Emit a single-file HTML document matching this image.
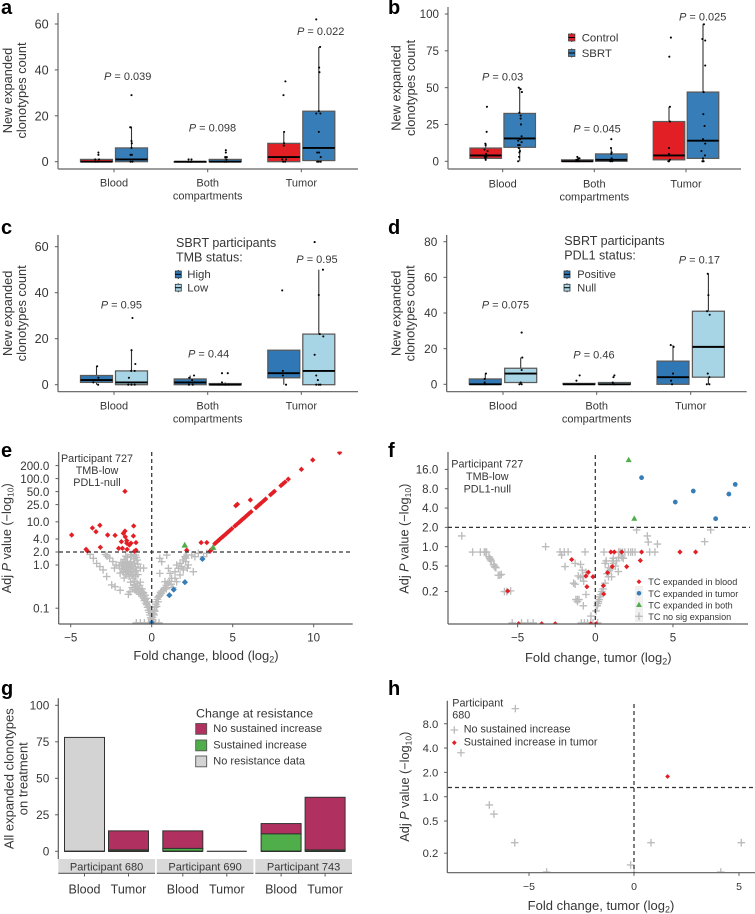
<!DOCTYPE html>
<html lang="en">
<head>
<meta charset="utf-8">
<title>New expanded clonotypes figure</title>
<style>
html,body{margin:0;padding:0;background:#fff;width:755px;height:914px;overflow:hidden}
svg{display:block;font-family:"Liberation Sans",Arial,sans-serif;fill:#363636;filter:blur(0.25px)}
.pl{font-weight:bold;font-size:20px;fill:#000}
.t{font-size:11px}
.yt{font-size:12.8px}
.tl{font-size:12px}
.sm{font-size:10px}
</style>
</head>
<body>
<svg id="fig" xmlns="http://www.w3.org/2000/svg" width="755" height="914" viewBox="0 0 755 914">
<defs>
<clipPath id="clip-e"><rect x="59" y="451.5" width="294" height="172"/></clipPath>
<clipPath id="clip-f"><rect x="448.5" y="451.5" width="300" height="172"/></clipPath>
<clipPath id="clip-h"><rect x="448" y="700" width="307" height="172"/></clipPath>
</defs>

<text class="pl" x="1" y="14">a</text>
<text class="pl" x="388" y="14">b</text>
<text class="pl" x="1" y="234">c</text>
<text class="pl" x="388" y="234">d</text>
<text class="pl" x="1" y="457">e</text>
<text class="pl" x="388" y="457">f</text>
<text class="pl" x="1" y="695">g</text>
<text class="pl" x="388" y="695">h</text>

<g id="panel-a">
<text class="yt" transform="translate(12,90.5) rotate(-90)" text-anchor="middle">New expanded</text>
<text class="yt" transform="translate(26,90.5) rotate(-90)" text-anchor="middle">clonotypes count</text>
<text class="t" x="104" y="80"><tspan font-style="italic">P</tspan> = 0.039</text>
<text class="t" x="188.7" y="131.7"><tspan font-style="italic">P</tspan> = 0.098</text>
<text class="t" x="297" y="35"><tspan font-style="italic">P</tspan> = 0.022</text>
</g>

<g id="panel-b">
<text class="yt" transform="translate(400.7,88) rotate(-90)" text-anchor="middle">New expanded</text>
<text class="yt" transform="translate(415,88) rotate(-90)" text-anchor="middle">clonotypes count</text>
<text class="t" x="482" y="80.3"><tspan font-style="italic">P</tspan> = 0.03</text>
<text class="t" x="573.3" y="132.3"><tspan font-style="italic">P</tspan> = 0.045</text>
<text class="t" x="679" y="20.7"><tspan font-style="italic">P</tspan> = 0.025</text>
<g>
<line x1="571.7" x2="571.7" y1="33" y2="42" stroke="#333" stroke-width="1"/>
<rect x="568.5" y="34" width="6.4" height="7" fill="#e31f26" stroke="#444" stroke-width="0.8"/>
<line x1="568.5" x2="574.9" y1="37.5" y2="37.5" stroke="#000" stroke-width="1"/>
<text x="581.7" y="41.3" font-size="11.4">Control</text>
</g>
<g>
<line x1="571.7" x2="571.7" y1="48.5" y2="57.5" stroke="#333" stroke-width="1"/>
<rect x="568.5" y="49.5" width="6.4" height="7" fill="#377eb8" stroke="#444" stroke-width="0.8"/>
<line x1="568.5" x2="574.9" y1="53" y2="53" stroke="#000" stroke-width="1"/>
<text x="581.7" y="56.8" font-size="11.4">SBRT</text>
</g>
</g>

<g id="panel-c">
<text class="yt" transform="translate(12,313.3) rotate(-90)" text-anchor="middle">New expanded</text>
<text class="yt" transform="translate(26,313.3) rotate(-90)" text-anchor="middle">clonotypes count</text>
<text class="t" x="100.7" y="308.3"><tspan font-style="italic">P</tspan> = 0.95</text>
<text class="t" x="188" y="357.7"><tspan font-style="italic">P</tspan> = 0.44</text>
<text class="t" x="296.3" y="263"><tspan font-style="italic">P</tspan> = 0.95</text>
<text x="176" y="247" font-size="12.5">SBRT participants</text>
<text x="176" y="261.7" font-size="12.5">TMB status:</text>
<g>
<line x1="178.3" x2="178.3" y1="270" y2="279" stroke="#333" stroke-width="1"/>
<rect x="175.3" y="271" width="6" height="6.8" fill="#2f78b5" stroke="#333" stroke-width="0.8"/>
<line x1="175.3" x2="181.3" y1="274.3" y2="274.3" stroke="#000" stroke-width="1"/>
<text x="187.3" y="278.2" font-size="11.4">High</text>
</g>
<g>
<line x1="178.3" x2="178.3" y1="283.3" y2="292.3" stroke="#333" stroke-width="1"/>
<rect x="175.3" y="284.3" width="6" height="6.8" fill="#a8d5e5" stroke="#333" stroke-width="0.8"/>
<line x1="175.3" x2="181.3" y1="287.7" y2="287.7" stroke="#000" stroke-width="1"/>
<text x="187.3" y="291.6" font-size="11.4">Low</text>
</g>
</g>

<g id="panel-d">
<text class="yt" transform="translate(400.3,313.3) rotate(-90)" text-anchor="middle">New expanded</text>
<text class="yt" transform="translate(414.3,313.3) rotate(-90)" text-anchor="middle">clonotypes count</text>
<text class="t" x="481.7" y="308.3"><tspan font-style="italic">P</tspan> = 0.075</text>
<text class="t" x="573.3" y="358.3"><tspan font-style="italic">P</tspan> = 0.46</text>
<text class="t" x="678.7" y="263.3"><tspan font-style="italic">P</tspan> = 0.17</text>
<text x="564.3" y="245" font-size="12.5">SBRT participants</text>
<text x="564.3" y="259.3" font-size="12.5">PDL1 status:</text>
<g>
<line x1="567" x2="567" y1="270" y2="279" stroke="#333" stroke-width="1"/>
<rect x="564" y="271" width="6" height="6.8" fill="#2f78b5" stroke="#333" stroke-width="0.8"/>
<line x1="564" x2="570" y1="274.3" y2="274.3" stroke="#000" stroke-width="1"/>
<text x="577.3" y="278.2" font-size="11">Positive</text>
</g>
<g>
<line x1="567" x2="567" y1="283.3" y2="292.3" stroke="#333" stroke-width="1"/>
<rect x="564" y="284.3" width="6" height="6.8" fill="#a8d5e5" stroke="#333" stroke-width="0.8"/>
<line x1="564" x2="570" y1="287.7" y2="287.7" stroke="#000" stroke-width="1"/>
<text x="577.3" y="291.6" font-size="11">Null</text>
</g>
</g>

<g id="panel-e">
<text font-size="12.7" transform="translate(11,538.3) rotate(-90)" text-anchor="middle">Adj <tspan font-style="italic">P</tspan> value (−log<tspan font-size="8.5" dy="2.5">10</tspan><tspan dy="-2.5">)</tspan></text>
<text font-size="13" x="206" y="660" text-anchor="middle">Fold change, blood (log<tspan font-size="9" dy="2.5">2</tspan><tspan dy="-2.5">)</tspan></text>
</g>

<g id="panel-f">
<text font-size="12.7" transform="translate(408.3,538.7) rotate(-90)" text-anchor="middle">Adj <tspan font-style="italic">P</tspan> value (−log<tspan font-size="8.5" dy="2.5">10</tspan><tspan dy="-2.5">)</tspan></text>
<text font-size="13" x="598.3" y="662" text-anchor="middle">Fold change, tumor (log<tspan font-size="9" dy="2.5">2</tspan><tspan dy="-2.5">)</tspan></text>
</g>

<g id="panel-g">
<text font-size="13" transform="translate(13.3,778.7) rotate(-90)" text-anchor="middle">All expanded clonotypes</text>
<text font-size="13" transform="translate(27.7,778.7) rotate(-90)" text-anchor="middle">on treatment</text>
<text x="196" y="717.3" font-size="12.4">Change at resistance</text>
<rect x="195.7" y="723.5" width="11" height="10.8" fill="#b0305f" stroke="#555" stroke-width="0.9"/>
<rect x="195.7" y="740" width="11" height="10.8" fill="#4fae4a" stroke="#555" stroke-width="0.9"/>
<rect x="195.7" y="756" width="11" height="10.8" fill="#d3d3d3" stroke="#555" stroke-width="0.9"/>
<text class="t" x="213.3" y="732">No sustained increase</text>
<text class="t" x="213.3" y="748.3">Sustained increase</text>
<text class="t" x="213.3" y="764.3">No resistance data</text>
</g>

<g id="panel-h">
<text font-size="12.7" transform="translate(409,786.7) rotate(-90)" text-anchor="middle">Adj <tspan font-style="italic">P</tspan> value (−log<tspan font-size="8.5" dy="2.5">10</tspan><tspan dy="-2.5">)</tspan></text>
<text font-size="13" x="601" y="910" text-anchor="middle">Fold change, tumor (log<tspan font-size="9" dy="2.5">2</tspan><tspan dy="-2.5">)</tspan></text>
<text font-size="10.8" x="452.3" y="706.7">Participant</text>
<text font-size="10.8" x="452.3" y="718.7">680</text>
<text font-size="10.8" x="463.7" y="732.7">No sustained increase</text>
<text font-size="10.8" x="463.7" y="745.3">Sustained increase in tumor</text>
</g>
</svg>

<script>
// ---------- box plot data ----------
const boxCategories = [["Blood"], ["Both", "compartments"], ["Tumor"]];

const aTicks = [0, 20, 40, 60];
const aQ1 = [0, 0, 0, 0, 0, 0.5];
const aMedian = [0, 1, 0, 0, 2, 6];
const aQ3 = [1, 6, 0, 1, 8, 22];
const aLow = [0, 0, 0, 0, 0, 0];
const aHigh = [1, 15, 0, 2, 13, 50];
const aPoints = [[4,3,1,1,0,0],[29,15,15,9,8,6,3,3,0,0],[1,1,0,0,0],[5,4,2,2,1,0,0],[35,29,13,8,7,1,1,0,0],[62,50,41,39,22,21,21,13,4,4,2,0,0,0]];
const aJitter = [[.06,.06,-.04,.08,-.04,.04],[0,-.04,-.02,0,.01,0,-.03,.01,-.03,.03],[-.05,.04,-.06,.01,.05],[.02,.02,.05,0,.04,-.01,.04],[.05,-.01,.01,.01,0,-.05,.07,-.02,.04],[-.08,.04,.01,.02,0,-.08,.05,0,-.05,.01,.06,-.05,0,.06]];

const bTicks = [0, 25, 50, 75, 100];
const bQ1 = [2, 9.5, 0, 0, 1, 2];
const bMedian = [4, 15.5, 0, 1, 4, 14];
const bQ3 = [9, 32.5, 1, 5, 27, 47];
const bLow = [1, 0, 0, 0, 0, 0];
const bHigh = [12, 50, 1, 9, 37, 93];
const bPoints = [[37,20,12,11,8,7,5,4,3,3,2,1],[50,49,47,33,31,29,25,17,15,14,13,11,11,9,7,6,3,0],[3,2,2,1,1,0,0],[15,9,6,5,2,1,0,0],[84,71,37,27,9,5,4,1,0,0],[93,83,82,65,47,32,24,15,12,7,4,2,0,0]];
const bJitter = [[.04,.03,-.01,0,-.04,.06,.01,.04,-.03,.02,-.01,0],[-.03,.03,.07,-.01,.03,.03,.04,.06,.01,-.05,.06,-.05,0,-.03,.01,-.01,-.02,-.05],[0,.03,.07,.02,-.03,-.04,.05],[0,-.01,.01,0,.01,.03,-.03,.03],[.06,.01,.03,.03,0,0,-.03,.03,-.02,0],[.03,-.02,.07,.07,.02,.01,.05,0,.07,-.05,.06,0,-.02,.02]];

const cTicks = [0, 20, 40, 60];
const cQ1 = [1, 0, 0, 0, 3, 0];
const cMedian = [2, 1, 1, 0, 5, 6];
const cQ3 = [4, 6, 2.5, 0.5, 15, 22];
const cLow = [0, 0, 0, 0, 0, 0];
const cHigh = [8, 15, 4, 1, 15, 50];
const cPoints = [[8,3,2,1,0],[29,15,9,6,6,3,0,0,0],[4,3,2,1,0,0],[5,5,1,0,0,0],[41,6,4,0],[62,50,39,22,21,13,4,2,0,0,0]];
const cJitter = [[.02,.06,-.05,-.1,.05],[.03,0,.12,-.01,.1,-.08,-.1,0,.1],[.12,-.03,.06,-.05,-.04,.08],[-.1,.08,-.1,-.2,0,.1],[-.05,-.03,-.03,.07],[-.13,.13,0,.03,.14,-.13,-.08,-.03,-.08,0,.05]];

const dTicks = [0, 20, 40, 60, 80];
const dQ1 = [0, 1, 0, 0, 0, 4];
const dMedian = [0, 6, 0, 0, 4, 21];
const dQ3 = [3, 9, 0.5, 1, 13, 41];
const dLow = [0, 0, 0, 0, 0, 0];
const dHigh = [6, 15, 0.5, 1, 22, 62];
const dPoints = [[6,3,1,0],[29,15,8,1,0,0],[5,2,0],[5,4,1,0],[22,21,6,2,0],[62,50,41,39,6,4,0,0]];
const dJitter = [[.02,-.02,-.02,0],[.03,.05,.03,0,-.04,.03],[.02,-.08,0],[0,-.03,-.05,0],[-.07,.02,0,-.06,-.03],[-.02,0,-.04,.04,-.02,.03,-.05,.03]];

// ---------- volcano e data: [log2 fold change, -log10 adj P] ----------
const eXTicks = [-5, 0, 5, 10];
const eYTicks = [200, 100, 50, 25, 10, 4, 2, 1, 0.1];
const eYLabels = ["200.0", "100.0", "50.0", "25.0", "10.0", "4.0", "2.0", "1.0", "0.1"];
const eGrey = [[-3.8,1.76],[-3.6,1.43],[-3.4,1.09],[-3.2,.92],[-3,.77],[-2.78,.54],[-2.47,.345],[-2.26,.315],[-1.95,.26],[-1.44,.21],[-1.34,.24],
[-2.85,1.75],[-2.75,1.6],[-2.6,1.45],[-2.4,1.2],[-2.2,1],[-2.3,.85],[-2,.95],[-1.9,1.15],[-1.85,.85],[-1.8,1.1],[-1.75,.95],[-1.7,.8],[-1.65,1],[-1.6,1.2],[-1.55,.9],[-1.5,.75],[-1.5,1.1],[-1.45,.95],[-1.4,.85],[-1.35,1.05],[-1.3,.7],[-1.3,1.2],[-1.25,.9],[-1.2,.6],[-1.2,1],[-1.15,.8],[-1.1,1.4],[-1.1,.7],[-1.05,1.1],[-1,.9],[-1,.55],[-.95,.75],[-.9,1.3],[-.85,.6],[-.7,.85],[-.5,.85],[-1.7,.5],[-1.6,.6],[-1.4,.55],[-1.95,.65],[-1.7,1.35],[-1.5,1.5],[-1.25,1.6],[-1,1.7],[-1.6,1.6],[-1.3,1.75],[-.85,1.05],[-.95,1.5],[-1.75,.7],[-1.45,.65],[-1.15,.5],[-1.05,.42],[-1.3,.4],
[-1.2,.3],[-1.1,.35],[-1.05,.27],[-1,.3],[-.95,.25],[-.9,.33],[-.85,.27],[-.8,.23],[-.75,.29],[-.7,.21],[-.65,.25],[-.6,.19],[-.55,.22],[-.5,.17],[-.45,.15],[-.4,.16],[-.35,.13],[-.3,.12],[-.25,.105],[-.2,.09],[-.15,.08],[-.1,.07],[-.05,.06],[0,.055],[-.9,.38],[-.75,.34],[-.6,.28],[-.5,.23],[-.4,.2],[-.3,.17],[-.7,.4],[-.25,.14],[-.15,.11],[-.1,.09],
[.05,.062],[.1,.075],[.15,.09],[.2,.105],[.25,.125],[.3,.14],[.35,.16],[.4,.18],[.45,.19],[.5,.2],[.55,.23],[.6,.22],[.7,.25],[.75,.27],[.85,.3],[.9,.34],[1,.38],[1.1,.42],[1.2,.36],[1.3,.3],[.9,.28],[.6,.25],[.05,.05],[.15,.07],[.3,.11],[.4,.14],[.2,.085],
[.5,1.43],[.93,1.7],[.62,1.19],[.5,.64],[1.03,.84],[1.44,.7],[1.54,1],[1.75,1.09],[1.95,1.31],[2.06,1.56],[2.16,1.7],[2.47,1.7],[2.67,1.56],[2.88,1.86],[2.57,.7],[1.44,.49],[1.75,.59],[1.95,.77],[1.65,.84],[1.13,.64],[1.23,.49],[.82,.41],[1.54,.41],[2.26,1],[2.1,1.2],[2.2,.85],[3.4,1.86],[3.2,1.56],[1.85,.92],[2.1,1.45],
[-.95,.046],[-.7,.046],[-.45,.046],[-.2,.046],[0,.046],[.1,.046],[.25,.046],[.45,.046]];
const eRedSide = [[-4.94,4.95],[-4.05,2.3],[-3.97,2.1],[-3.66,7.2],[-3.44,5.9],[-3.2,8.3],[-3.17,2.57],[-2.72,4.95],[-2.26,4.86],[-2.04,2.43],[-1.81,2.43],[-1.87,3.47],[-1.75,5.4],[-1.65,6.1],[-1.63,4.5],[-1.54,3.66],[-1.54,3.2],[-1.52,2.3],[-1.65,50.7],[-1.38,2.9],[-1.28,3.2],[-1.13,4.7],[-1.11,8],[-1.07,2.07],[-.97,2.2],[-.97,3.3],[2.16,2.2],[3.05,3.3],[3.4,3.3],[3.6,2.1],[3.7,2.3],[5.19,23.6],[5.29,25.4],[6.09,32],[9.24,164],[9.94,270],[11.6,400]];
const eRedDiagonal = [[3.9,3.13],[4,3.38],[4.1,3.65],[4.2,3.94],[4.3,4.25],[4.4,4.57],[4.5,4.93],[4.6,5.32],[4.7,5.74],[4.8,6.19],[4.94,6.9],[5.14,8],[5.25,8.7],[5.4,9.75],[5.5,10.5],[5.6,11.4],[5.7,12.2],[5.8,13.2],[5.9,14.3],[6,15.4],[6.13,17],[6.44,21.3],[6.55,23.2],[6.65,25],[6.75,27],[6.9,30.3],[7.03,33.5],[7.34,42.5],[7.47,47],[7.57,50.5],[7.98,69],[8.1,75.5],[8.23,83],[8.43,97]];
const eBlue = [[1.09,.2],[1.36,.27],[2.05,.4],[3.13,1.38],[0,.046]];
const eGreen = [[2.04,2.9],[3.79,2.57]];

// ---------- volcano f data ----------
const fXTicks = [-5, 0, 5];
const fYTicks = [16, 8, 4, 2, 1, 0.5, 0.2];
const fYLabels = ["16.0", "8.0", "4.0", "2.0", "1.0", "0.5", "0.2"];
const fGrey = [[-8.6,1.47],[-7.9,.826],[-7.4,.826],[-7.15,.826],[-7.05,.826],[-7,.826],[-6.85,.7],[-6.8,.66],[-6.75,.63],[-6.7,.6],[-6.55,.53],[-6.5,.5],[-6.45,.48],[-6.4,.47],[-6.25,.36],[-6.15,.36],[-6.05,.37],[-5.85,.2],[-5.7,.2],[-5.45,.205],[-3.2,1],[-2.27,.83],[-2.17,.74],[-2,.83],[-1.75,.83],[-1.95,.49],[-1.3,.55],[-.95,.53],[-.66,.83],[-.84,.43],[-.6,.4],[-1.1,.35],[-.95,.33],[-.8,.34],[-1.4,.27],[-1.3,.26],[-.75,.29],[-.6,.18],[-1.25,.15],[-1.15,.15],[-1.05,.15],[-1.15,.14],[-.77,.12],[-.28,.083],
[-5.35,.065],[-4.75,.065],[-4.35,.065],[-4,.065],[-.9,.065],[-.7,.065],[-.5,.065],[-.3,.065],[-.15,.065],[.15,.065],
[.56,.826],[1.6,.826],[2.13,.826],[2.28,.826],[2.56,.826],[3.5,.826],[3.84,.826],[1.5,.826],[1.75,.826],[1.9,.826],[2.4,.826],[2.66,1.82],[3.35,1.47],[3.41,1.18],[4,1.1],[7.43,1.82],[7.04,1.2],
[.3,.166],[.41,.2],[.63,.27],[.85,.34],[1.16,.55],[1.48,.41],[.63,.55],[.85,.47],[1.16,.66],[1.37,.6],[1.7,.69],[1.8,.66],[1.05,.34],[.2,.14],[.13,.12],[.04,.1],[.9,.42],[.75,.38],[1,.45],[1.3,.5],[.5,.22],[.35,.18],[.25,.15],[.18,.13],[1.5,.68],[.7,.6],[1.1,.6]];
const fRed = [[5.45,.826],[6.46,.826],[2.9,.61],[2.98,.826],[1.7,.826],[1.22,.826],[1,.826],[2.02,.49],[1.09,.49],[.79,.394],[.515,.247],[.54,.183],[-1.52,.63],[-.45,.4],[-.6,.35],[-.15,.34],[-.54,.238],[-5.64,.204],[-4.94,.063],[-3.45,.063],[-2.58,.063],[-.28,.063],[.06,.063]];
const fBlue = [[2.98,11.9],[5.15,4.96],[6.31,7.36],[9.01,9.34],[8.6,6.6],[7.75,2.73]];
const fGreen = [[2.15,22.6],[2.51,2.76]];

// ---------- stacked bars g data ----------
const gTicks = [0, 25, 50, 75, 100];
const gParticipants = ["Participant 680", "Participant 690", "Participant 743"];
const gCategories = ["Blood", "Tumor"];
const gSustained = [0, 1, 2, 0, 12, 1];
const gNoSustained = [0, 13, 12, 0, 7, 36];
const gNoData = [78, 0, 0, 0, 0, 0];

// ---------- volcano h data ----------
const hXTicks = [-5, 0, 5];
const hYTicks = [8, 4, 2, 1, 0.5, 0.2];
const hYLabels = ["8.0", "4.0", "2.0", "1.0", "0.5", "0.2"];
const hGrey = [[-5.65,12.3],[-8.24,3.5],[-6.89,.79],[-6.67,.61],[-5.68,.27],[.81,.27],[5.11,.27],[-.16,.143],[-4.16,.117],[4.13,.117],[0,.115]];
const hRed = [[1.6,1.78]];

// ---------- drawing ----------
const NS = "http://www.w3.org/2000/svg";
const AXIS = "#5c5c5c";
function mk(parent, tag, attrs, txt) {
  const el = document.createElementNS(NS, tag);
  for (const k in attrs) el.setAttribute(k, attrs[k]);
  if (txt !== undefined) el.textContent = txt;
  parent.appendChild(el);
  return el;
}

function axisLine(parent, x1, y1, x2, y2, color, width) {
  const el = mk(parent, "line", { x1, y1, x2, y2, stroke: color || AXIS, "stroke-width": width || 1.2 });
  
  
}
function yTick(parent, axisX, y, label, rightX, size) {
  const tick = mk(parent, "line", { x1: axisX - 3.2, x2: axisX, y1: y, y2: y, stroke: AXIS, "stroke-width": 1 });
  
  
  const t = mk(parent, "text", { x: rightX, y: y + size * 0.36, "text-anchor": "end", "font-size": size }, label);
  
  
}
function xTick(parent, axisY, x, labels, baseY, size, lead) {
  const tick = mk(parent, "line", { x1: x, x2: x, y1: axisY, y2: axisY + 3.2, stroke: AXIS, "stroke-width": 1 });
  
  
  labels.forEach((s, i) => {
    const t = mk(parent, "text", { x: x, y: baseY + i * lead, "text-anchor": "middle", "font-size": size }, s);
    
    
  });
}

function boxPanel(id, g, ticks, q1, med, q3, low, high, pts, jit, fills) {
  const root = document.getElementById(id);
  const maxTick = ticks[ticks.length - 1];
  const yOf = v => g.y0 - (v / maxTick) * (g.y0 - g.yMax);
  const xOf = i => g.cats[Math.floor(i / 2)] + (i % 2 === 0 ? -g.off : g.off);
  axisLine(root, g.x0, g.top, g.x0, g.bottom, g.axisColor, g.axisWidth);
  axisLine(root, g.x0, g.bottom, g.right, g.bottom, g.axisColor, g.axisWidth);
  ticks.forEach(v => yTick(root, g.x0, yOf(v), String(v), g.labelX, g.tickSize));
  boxCategories.forEach((lines, i) => xTick(root, g.bottom, g.cats[i], lines, g.catY, 11, 12.6));
  q1.forEach((_, i) => {
    const cx = xOf(i);
    const w = mk(root, "line", { x1: cx, x2: cx, y1: yOf(high[i]), y2: yOf(low[i]), stroke: "#333", "stroke-width": 1.1 });
    
    
    const box = mk(root, "rect", { x: cx - g.bw / 2, y: yOf(q3[i]), width: g.bw, height: Math.max(0.4, yOf(q1[i]) - yOf(q3[i])), fill: fills[i % 2], stroke: "#5a5a5a", "stroke-width": 1.25 });
    
    
    const m = mk(root, "line", { x1: cx - g.bw / 2, x2: cx + g.bw / 2, y1: yOf(med[i]), y2: yOf(med[i]), stroke: "#000", "stroke-width": 1.9 });
    
    
    pts[i].forEach((v, j) => {
      const p = mk(root, "circle", { cx: cx + jit[i][j] * g.bw, cy: yOf(v), r: 1.05, fill: "#000" });
      
      
    });
  });
}

boxPanel("panel-a", { x0: 58, top: 13, bottom: 169, right: 358, y0: 161.7, yMax: 24, cats: [114, 207.7, 301.3], off: 17.5, bw: 32, labelX: 48.7, catY: 186.7, tickSize: 12.6, axisColor: "#7d7d7d", axisWidth: 1.4 }, aTicks, aQ1, aMedian, aQ3, aLow, aHigh, aPoints, aJitter, ["#e31f26", "#377eb8"]);
boxPanel("panel-b", { x0: 448, top: 7, bottom: 169, right: 741, y0: 161.3, yMax: 14, cats: [502.7, 594.3, 686], off: 17, bw: 31.5, labelX: 439, catY: 187.7, tickSize: 11.6, axisColor: "#7d7d7d", axisWidth: 1.4 }, bTicks, bQ1, bMedian, bQ3, bLow, bHigh, bPoints, bJitter, ["#e31f26", "#377eb8"]);
boxPanel("panel-c", { x0: 58, top: 235, bottom: 391.7, right: 358, y0: 384.7, yMax: 246.7, cats: [114, 207.7, 301.3], off: 17.5, bw: 32, labelX: 48.7, catY: 409.7, tickSize: 12.6 }, cTicks, cQ1, cMedian, cQ3, cLow, cHigh, cPoints, cJitter, ["#2f78b5", "#a8d5e5"]);
boxPanel("panel-d", { x0: 446.7, top: 235, bottom: 391.7, right: 746.7, y0: 384.3, yMax: 241.7, cats: [503, 596.7, 690.7], off: 17.7, bw: 32, labelX: 437.3, catY: 409.7, tickSize: 11.8 }, dTicks, dQ1, dMedian, dQ3, dLow, dHigh, dPoints, dJitter, ["#2f78b5", "#a8d5e5"]);

function plus(parent, cx, cy) {
  const s = 3.8;
  const el = mk(parent, "path", { d: `M${cx - s} ${cy}H${cx + s}M${cx} ${cy - s}V${cy + s}`, stroke: "#bcbcbc", "stroke-width": 1.35, fill: "none" });
  
  
}
function diamond(parent, cx, cy, r, fill) {
  const el = mk(parent, "path", { d: `M${cx} ${cy - r}L${cx + r} ${cy}L${cx} ${cy + r}L${cx - r} ${cy}Z`, fill: fill });
  
  
}
function dot(parent, cx, cy, r, fill) {
  const el = mk(parent, "circle", { cx, cy, r, fill });
  
  
}
function tri(parent, cx, cy, r, fill) {
  const el = mk(parent, "path", { d: `M${cx} ${cy - r}L${cx + r} ${cy + r * 0.8}L${cx - r} ${cy + r * 0.8}Z`, fill });
  
  
}
function dashed(parent, x1, y1, x2, y2) {
  const el = mk(parent, "line", { x1, y1, x2, y2, stroke: "#333", "stroke-width": 1.25, "stroke-dasharray": "4 3" });
  
  
}

// panel e
(function () {
  const root = document.getElementById("panel-e");
  const xOf = v => 151.7 + v * 16.2;
  const yOf = v => 565 - 43.2 * Math.log10(v);
  const marks = mk(root, "g", { "clip-path": "url(#clip-e)" });
  
  
  eGrey.forEach(p => plus(marks, xOf(p[0]), yOf(p[1])));
  eRedSide.forEach(p => diamond(marks, xOf(p[0]), yOf(p[1]), 2.7, "#e31f26"));
  eRedDiagonal.forEach(p => diamond(marks, xOf(p[0]), yOf(p[1]), 2.7, "#e31f26"));
  eBlue.forEach(p => diamond(marks, xOf(p[0]), yOf(p[1]), 3.1, "#377eb8"));
  eGreen.forEach(p => tri(marks, xOf(p[0]), yOf(p[1]), 3.3, "#4fae4a"));
  axisLine(root, 58.7, 452, 58.7, 624);
  axisLine(root, 58.7, 624, 352.7, 624);
  dashed(root, 59, yOf(2), 353, yOf(2));
  dashed(root, xOf(0), 452, xOf(0), 624);
  eYTicks.forEach((v, i) => yTick(root, 58.7, yOf(v), eYLabels[i], 49.3, 11.6));
  eXTicks.forEach(v => xTick(root, 624, xOf(v), [v < 0 ? "−" + Math.abs(v) : String(v)], 641.7, 11.6, 0));
  ["Participant 727", "TMB-low", "PDL1-null"].forEach((s, i) => {
    const t = mk(root, "text", { x: 97, y: 462 + i * 12, "text-anchor": "middle", "font-size": 10.8 }, s);
    
    
  });
})();

// panel f
(function () {
  const root = document.getElementById("panel-f");
  const xOf = v => 595.3 + v * 15.53;
  const yOf = v => 546.7 - 64.2 * Math.log10(v);
  const marks = mk(root, "g", { "clip-path": "url(#clip-f)" });
  
  
  fGrey.forEach(p => plus(marks, xOf(p[0]), yOf(p[1])));
  fRed.forEach(p => diamond(marks, xOf(p[0]), yOf(p[1]), 2.6, "#e31f26"));
  fBlue.forEach(p => dot(marks, xOf(p[0]), yOf(p[1]), 2.4, "#377eb8"));
  fGreen.forEach(p => tri(marks, xOf(p[0]), yOf(p[1]), 3, "#4fae4a"));
  axisLine(root, 448, 452, 448, 624);
  axisLine(root, 448, 624, 748, 624);
  dashed(root, 448, yOf(2), 750, yOf(2));
  dashed(root, xOf(0), 455, xOf(0), 624);
  fYTicks.forEach((v, i) => yTick(root, 448, yOf(v), fYLabels[i], 438.3, 11.6));
  fXTicks.forEach(v => xTick(root, 624, xOf(v), [v < 0 ? "−" + Math.abs(v) : String(v)], 641.7, 11.6, 0));
  ["Participant 727", "TMB-low", "PDL1-null"].forEach((s, i) => {
    const t = mk(root, "text", { x: 487.3, y: 467.7 + i * 12.5, "text-anchor": "middle", "font-size": 10.8 }, s);
    
    
  });
  const keyBg = mk(root, "rect", { x: 635, y: 586, width: 8, height: 36, fill: "#f1f1f1" });
  
  
  diamond(root, 639, 581.7, 2.4, "#e31f26");
  dot(root, 639, 593.3, 2.3, "#377eb8");
  tri(root, 639, 604.7, 2.9, "#4fae4a");
  plus(root, 639, 616.3);
  ["TC expanded in blood", "TC expanded in tumor", "TC expanded in both", "TC no sig expansion"].forEach((s, i) => {
    const t = mk(root, "text", { x: 648.3, y: 585.2 + i * 11.55, "font-size": 9.1 }, s);
    
    
  });
})();

// panel g
(function () {
  const root = document.getElementById("panel-g");
  const yOf = v => 851.3 - v * 1.46;
  const slot = i => 84.5 + Math.floor(i / 2) * 98.3 + (i % 2) * 44;
  const bw = 40;
  axisLine(root, 58.3, 698.3, 58.3, 859);
  gTicks.forEach(v => yTick(root, 58.3, yOf(v), String(v), 49.3, 11.8));
  gParticipants.forEach((s, i) => {
    const sx = 58.3 + i * 98.5;
    const strip = mk(root, "rect", { x: sx, y: 859, width: 96.7, height: 14.3, fill: "#d9d9d9" });
    
    
    const t = mk(root, "text", { x: sx + 48.3, y: 870.7, "text-anchor": "middle", "font-size": 11 }, s);
    
    
    axisLine(root, sx, 873.3, sx + 96.7, 873.3);
    gCategories.forEach((c, j) => xTick(root, 873.3, slot(i * 2 + j), [c], 893.3, 12.5, 0));
  });
  gSustained.forEach((_, i) => {
    const cx = slot(i);
    const segs = [[gSustained[i], "#4fae4a"], [gNoSustained[i], "#b0305f"], [gNoData[i], "#d3d3d3"]];
    let base = 0;
    segs.forEach(seg => {
      if (seg[0] <= 0) return;
      const r = mk(root, "rect", { x: cx - bw / 2, y: yOf(base + seg[0]), width: bw, height: yOf(base) - yOf(base + seg[0]), fill: seg[1], stroke: "#333", "stroke-width": 1 });
      
      
      base += seg[0];
    });
    const z = mk(root, "line", { x1: cx - bw / 2, x2: cx + bw / 2, y1: yOf(0), y2: yOf(0), stroke: "#111", "stroke-width": 1 });
    
    
  });
})();

// panel h
(function () {
  const root = document.getElementById("panel-h");
  const xOf = v => 634 + v * 21;
  const yOf = v => 796.7 - 80.8 * Math.log10(v);
  const marks = mk(root, "g", { "clip-path": "url(#clip-h)" });
  
  
  hGrey.forEach(p => plus(marks, xOf(p[0]), yOf(p[1])));
  hRed.forEach(p => diamond(marks, xOf(p[0]), yOf(p[1]), 2.4, "#e31f26"));
  axisLine(root, 447.3, 700.7, 447.3, 872.7);
  axisLine(root, 447.3, 872.7, 755, 872.7);
  dashed(root, 448, yOf(1.3), 755, yOf(1.3));
  dashed(root, xOf(0), 704, xOf(0), 872.7);
  hYTicks.forEach((v, i) => yTick(root, 447.3, yOf(v), hYLabels[i], 438.3, 11.3));
  hXTicks.forEach(v => xTick(root, 872.7, xOf(v), [v < 0 ? "−" + Math.abs(v) : String(v)], 890, 10.5, 0));
  plus(root, 454.3, 730);
  diamond(root, 454.3, 742.7, 2.4, "#e31f26");
})();
</script>
</body>
</html>
